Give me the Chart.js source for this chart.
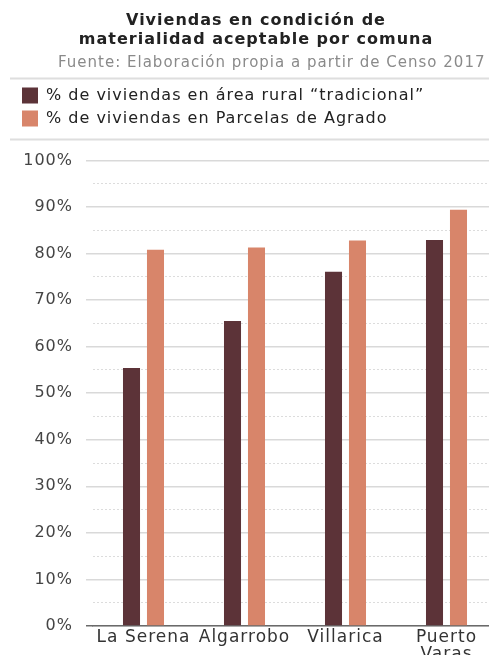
<!DOCTYPE html>
<html>
<head>
<meta charset="utf-8">
<script src="https://cdn.jsdelivr.net/npm/chart.js@4"></script>
<style>
  html, body { margin: 0; padding: 0; background: #fff; overflow: hidden; }
  #wrap { width: 500px; height: 666px; }
</style>
</head>
<body>
<div id="wrap"><canvas id="myChart"></canvas></div>
<script>
// comunas
const comunas = ['La Serena', 'Algarrobo', 'Villarica', ['Puerto', 'Varas']];
// % viviendas rural "tradicional"
const ruralTradicional = [55.4, 65.5, 76.1, 82.9];
// % viviendas en parcelas de agrado
const parcelasAgrado = [80.8, 81.3, 82.8, 89.4];
const serieNombres = ['% de viviendas en área rural “tradicional”', '% de viviendas en Parcelas de Agrado'];
const yTicks = [0, 100, 10]; // min, max, step

const FONT = 'DejaVu Sans';

// letter spacing + separator lines
const extras = {
    id: 'extras',
    beforeInit(chart) {
        const fit = chart.legend.fit;
        chart.legend.fit = function () {
            fit.call(this);
            this.height += 24;
        };
    },
    beforeUpdate(chart) { chart.ctx.letterSpacing = '1px'; },
    beforeDraw(chart) {
        const ctx = chart.ctx;
        ctx.letterSpacing = '1px';
        const top = chart.legend.top;
        ctx.save();
        ctx.strokeStyle = '#dedede';
        ctx.lineWidth = 2;
        ctx.beginPath();
        ctx.moveTo(10, top - 2); ctx.lineTo(chart.width, top - 2);
        ctx.moveTo(10, top + 59); ctx.lineTo(chart.width, top + 59);
        ctx.stroke();
        ctx.restore();
    }
};

const ctx = document.getElementById('myChart');
const myChart = new Chart(ctx, {
    type: 'bar',
    data: {
        labels: comunas,
        datasets: [{
            label: serieNombres[0],
            data: ruralTradicional,
            backgroundColor: '#5c3338',
            yAxisID: 'y'
        }, {
            label: serieNombres[1],
            data: parcelasAgrado,
            backgroundColor: '#d8856a',
            yAxisID: 'y'
        }]
    },
    options: {
        responsive: true,
        maintainAspectRatio: false,
        animation: false,
        categoryPercentage: 0.475,
        barPercentage: 0.71,
        layout: { padding: { left: 15, right: 3, top: 0, bottom: 0 } },
        plugins: {
            title: {
                display: true,
                text: ['Viviendas en condición de', 'materialidad aceptable por comuna'],
                color: '#222',
                font: { family: FONT, size: 16, weight: 'bold', lineHeight: 1.2 },
                padding: { top: 11, bottom: 4 }
            },
            subtitle: {
                display: true,
                text: 'Fuente: Elaboración propia a partir de Censo 2017  ',
                align: 'end',
                color: '#8a8a8a',
                font: { family: FONT, size: 15, lineHeight: 1.2 },
                padding: { top: 1, bottom: 8 }
            },
            legend: {
                position: 'top',
                align: 'start',
                labels: {
                    boxWidth: 16,
                    boxHeight: 16,
                    padding: 7,
                    color: '#222',
                    font: { family: FONT, size: 16 }
                }
            },
            tooltip: { enabled: false }
        },
        scales: {
            x: {
                grid: { display: false, drawTicks: false },
                border: { display: true, color: '#6a6a6a', width: 1.5 },
                ticks: {
                    color: '#333',
                    padding: 3,
                    maxRotation: 0,
                    font: { family: FONT, size: 17, lineHeight: 1.0 }
                }
            },
            y: {
                position: 'left',
                min: yTicks[0],
                max: yTicks[1],
                afterFit: s => { s.width = 78; },
                border: { display: false },
                grid: {
                    color: '#d9d9d9',
                    lineWidth: 1.5,
                    tickLength: 7,
                    tickColor: c => c.tick && c.tick.value === 0 ? '#6a6a6a' : '#d9d9d9'
                },
                ticks: {
                    stepSize: yTicks[2],
                    color: '#444',
                    padding: 13,
                    font: { family: FONT, size: 16 },
                    callback: v => v + '%'
                }
            },
            y2: {
                position: 'right',
                min: yTicks[0],
                max: yTicks[1],
                border: { display: false, dash: [2, 2] },
                grid: {
                    drawTicks: false,
                    lineWidth: 1,
                    color: c => c.tick && c.tick.value % 10 === 0 ? 'rgba(0,0,0,0)' : '#dcdcdc'
                },
                ticks: { display: false, stepSize: 5 }
            }
        }
    },
    plugins: [extras]
});
</script>
</body>
</html>
